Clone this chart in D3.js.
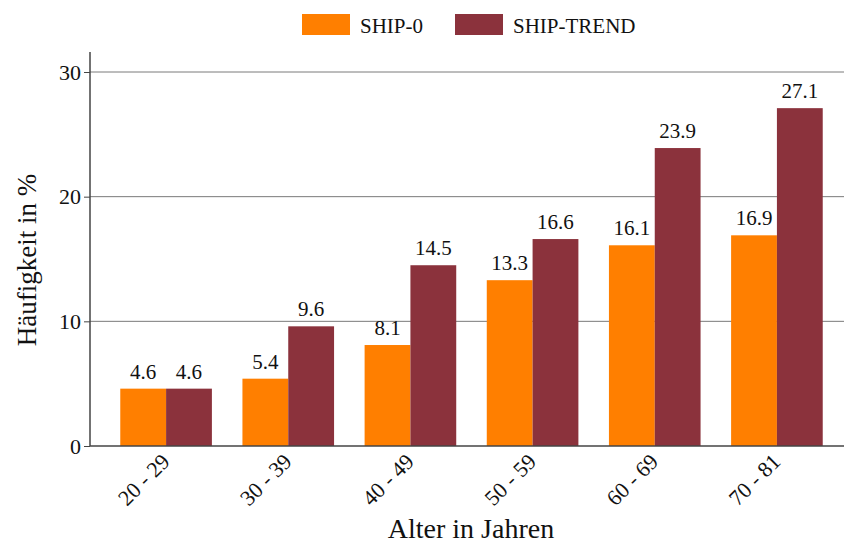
<!DOCTYPE html>
<html>
<head>
<meta charset="UTF-8">
<title>Häufigkeit nach Alter</title>
<script src="https://cdn.jsdelivr.net/npm/d3@7"></script>
<style>
  body { margin: 0; background: #fff; }
  text { font-family: "Liberation Serif", "DejaVu Serif", serif; fill: #111; }
</style>
</head>
<body>
<svg id="chart" width="844" height="547"></svg>
<script>
// data
const categories = ["20 - 29", "30 - 39", "40 - 49", "50 - 59", "60 - 69", "70 - 81"];
const series = ["SHIP-0", "SHIP-TREND"];
const ship0 = [4.6, 5.4, 8.1, 13.3, 16.1, 16.9];
const shipTrend = [4.6, 9.6, 14.5, 16.6, 23.9, 27.1];
const yTicks = [0, 10, 20, 30];
const colors = ["#ff7f00", "#8b323c"];

const svg = d3.select("#chart");

const plotLeft = 90, plotRight = 844, plotTop = 52, plotBottom = 446;

const x0 = d3.scaleBand()
    .domain(categories)
    .range([105, 838])
    .paddingInner(0.25)
    .paddingOuter(0.125);

const x1 = d3.scaleBand()
    .domain(series)
    .range([0, x0.bandwidth()]);

const y = d3.scaleLinear()
    .domain([0, 30])
    .range([plotBottom, 72]);

// gridlines
svg.append("g")
    .selectAll("line")
    .data(yTicks.filter(d => d > 0))
    .join("line")
    .attr("x1", plotLeft).attr("x2", plotRight)
    .attr("y1", d => y(d)).attr("y2", d => y(d))
    .attr("stroke", "#7a7a7a")
    .attr("stroke-width", 1);

// bars
const rows = categories.map((c, i) => ({ cat: c, vals: [ship0[i], shipTrend[i]] }));

const groups = svg.append("g")
    .selectAll("g")
    .data(rows)
    .join("g")
    .attr("transform", d => "translate(" + x0(d.cat) + ",0)");

groups.selectAll("rect")
    .data(d => d.vals.map((v, j) => ({ s: series[j], v: v, j: j })))
    .join("rect")
    .attr("x", d => x1(d.s))
    .attr("y", d => y(d.v))
    .attr("width", x1.bandwidth())
    .attr("height", d => y(0) - y(d.v))
    .attr("fill", d => colors[d.j]);

groups.selectAll("text")
    .data(d => d.vals.map((v, j) => ({ s: series[j], v: v })))
    .join("text")
    .attr("x", d => x1(d.s) + x1.bandwidth() / 2)
    .attr("y", d => y(d.v) - 10)
    .attr("text-anchor", "middle")
    .attr("font-size", 21)
    .text(d => d.v.toFixed(1));

// y axis
const yAxis = svg.append("g")
    .attr("transform", "translate(" + plotLeft + ",0)")
    .call(d3.axisLeft(y).tickValues(yTicks).tickSize(6).tickSizeOuter(0).tickFormat(d3.format("d")));
yAxis.select(".domain").remove();
yAxis.selectAll("line").attr("stroke", "#444");
yAxis.selectAll("text").attr("font-size", 22).attr("font-family", "Liberation Serif, serif").attr("fill", "#111");
svg.append("line")
    .attr("x1", plotLeft).attr("x2", plotLeft)
    .attr("y1", plotTop).attr("y2", plotBottom)
    .attr("stroke", "#444").attr("stroke-width", 1.5);

// x axis
svg.append("line")
    .attr("x1", plotLeft).attr("x2", plotRight)
    .attr("y1", plotBottom).attr("y2", plotBottom)
    .attr("stroke", "#444").attr("stroke-width", 1.5);

svg.append("g")
    .selectAll("text")
    .data(categories)
    .join("text")
    .attr("text-anchor", "end")
    .attr("font-size", 22)
    .attr("transform", d => "translate(" + (x0(d) + x0.bandwidth() / 2 - 6) + "," + (plotBottom + 6) + ") rotate(-45)")
    .attr("dy", "0.7em")
    .text(d => d);

// axis titles
svg.append("text")
    .attr("x", 471).attr("y", 538)
    .attr("text-anchor", "middle")
    .attr("font-size", 28)
    .text("Alter in Jahren");

svg.append("text")
    .attr("transform", "translate(36,260) rotate(-90)")
    .attr("text-anchor", "middle")
    .attr("font-size", 27)
    .text("Häufigkeit in %");

// legend
const legendX = [302, 455];
const legend = svg.append("g")
    .selectAll("g")
    .data(series)
    .join("g")
    .attr("transform", (d, i) => "translate(" + legendX[i] + ",14)");
legend.append("rect")
    .attr("width", 48).attr("height", 21)
    .attr("fill", (d, i) => colors[i]);
legend.append("text")
    .attr("x", 58).attr("y", 19)
    .attr("font-size", 21)
    .text(d => d);
</script>
</body>
</html>
